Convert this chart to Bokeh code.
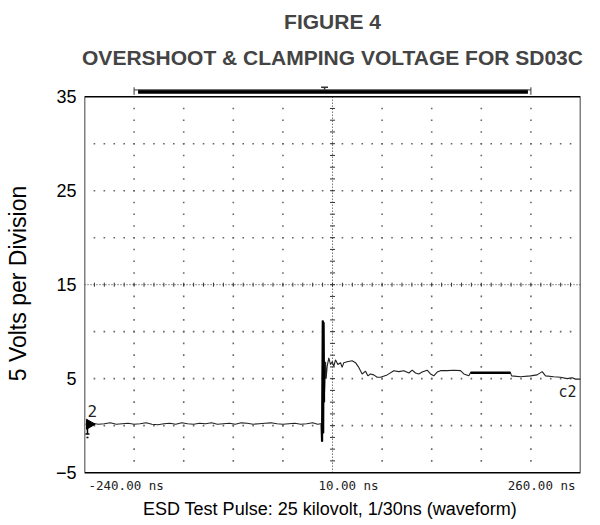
import numpy as np
from bokeh.plotting import figure
from bokeh.models import FixedTicker, Title
from bokeh.core.properties import value
from bokeh.embed import file_html
from bokeh.resources import INLINE

# ---------------- data ----------------
# waveform, channel 2 (time in ns, volts)
time_ns = [
    -239, -232, -226, -220, -214, -208, -202, -196, -190, -184,
    -178, -172, -166, -160, -154, -148, -142, -136, -130, -124,
    -118, -112, -106, -100, -94, -88, -82, -76, -70, -64,
    -58, -52, -46, -40, -34, -28, -22, -16, -10, -5, -2,
    -1.0, -0.5, 0.2, 0.6, 1.0, 1.5, 2.3, 3.0, 3.6, 4.6,
    6.3, 8.0, 9.7, 11.3, 13.0, 15.4, 18.1, 19.7, 21.4, 24.8,
    29.8, 33.2, 36.5, 39.9, 43.3, 45.6, 48.3, 51.6, 55.0, 58.4,
    65.1, 71.8, 76.9, 81.9, 87.0, 90.3, 93.7, 97.0, 100.4, 105.4,
    108.8, 112.1, 115.5, 118.9, 125.6, 132.3, 139.0, 142.4, 147.4, 149.1,
    189.4, 190.5, 199.5, 209.6, 216.3, 221.4, 224.7, 233.1, 239.8, 246.6,
    251.6, 255.0, 260.0,
]
volts = [
    0.15, 0.25, 0.15, 0.2, 0.3, 0.15, 0.2, 0.25, 0.15, 0.2,
    0.3, 0.15, 0.1, 0.2, 0.25, 0.15, 0.3, 0.2, 0.15, 0.25,
    0.2, 0.3, 0.15, 0.2, 0.25, 0.15, 0.3, 0.25, 0.15, 0.2,
    0.25, 0.3, 0.2, 0.15, 0.2, 0.25, 0.15, 0.2, 0.3, 0.15, 0.2,
    0.1, -1.7, 11.2, -0.8, 11.0, 2.5, 4.3, 6.8, 5.0, 6.3,
    7.2, 6.5, 6.8, 6.3, 7.0, 6.5, 6.7, 6.2, 6.7, 6.8,
    6.9, 6.7, 6.2, 5.5, 5.8, 5.3, 5.5, 5.4, 5.15, 5.15,
    5.4, 5.85, 5.75, 5.85, 5.6, 5.9, 5.6, 5.5, 5.7, 5.9,
    5.5, 5.3, 5.7, 5.85, 5.85, 5.9, 5.85, 5.5, 5.3, 5.64,
    5.64, 5.3, 5.2, 5.3, 5.4, 5.75, 5.3, 5.2, 5.15, 5.0,
    5.1, 4.95, 4.95,
]
assert len(time_ns) == len(volts)

# screen settings of the scope
x_tick_values = [-240, 10, 260]
x_tick_labels = ["-240.00 ns", "10.00 ns", "260.00 ns"]
y_tick_values = [-5, 5, 15, 25, 35]
record_start_ns, record_end_ns = -190, 210   # record-length bar above the screen
trigger_marker_ns = 2
channel_ground_v = 0.15
channel_name = "2"
trace_label = "c2"

TITLE_1 = "FIGURE 4"
TITLE_2 = "OVERSHOOT & CLAMPING VOLTAGE FOR SD03C"
X_LABEL = "ESD Test Pulse:  25 kilovolt, 1/30ns (waveform)"
Y_LABEL = "5 Volts per Division"

# ---------------- figure ----------------
X0, X1 = -240, 260
Y0, Y1 = -5, 35
XDIV, YDIV = 50, 5

p = figure(width=592, height=521, x_range=(X0, X1), y_range=(Y0 - 1.9, Y1 + 2.15),
           output_backend="svg", toolbar_location=None, title=None,
           min_border_left=84, min_border_right=12, min_border_top=76,
           min_border_bottom=30)
p.outline_line_color = None
p.grid.visible = False
p.background_fill_color = "white"

# titles
title_font = "Liberation Sans"
p.add_layout(Title(text=TITLE_2, align="center", text_font=title_font,
                   text_font_style="bold", text_font_size="21px", standoff=16), "above")
p.add_layout(Title(text=TITLE_1, align="center", text_font=title_font,
                   text_font_style="bold", text_font_size="21px", standoff=5), "above")

# axes
xa = p.xaxis[0]
xa.ticker = FixedTicker(ticks=[])
xa.axis_line_color = None
xa.major_tick_out = 0
xa.major_tick_in = 0
xa.minor_tick_out = 0
xa.minor_tick_in = 0
xa.major_label_standoff = 0
xa.axis_label = X_LABEL
xa.axis_label_standoff = 8
xa.axis_label_text_font = "Liberation Sans"
xa.axis_label_text_font_style = "normal"
xa.axis_label_text_font_size = "18px"
xa.axis_label_text_color = "black"

ya = p.yaxis[0]
ya.ticker = FixedTicker(ticks=y_tick_values)
ya.axis_line_color = None
ya.major_tick_out = 0
ya.major_tick_in = 0
ya.minor_tick_out = 0
ya.minor_tick_in = 0
ya.major_label_standoff = 8
ya.major_label_text_font = "Liberation Sans"
ya.major_label_text_font_size = "18px"
ya.major_label_text_color = "black"
ya.axis_label = Y_LABEL
ya.axis_label_standoff = 22
ya.axis_label_text_font = "Liberation Sans"
ya.axis_label_text_font_style = "normal"
ya.axis_label_text_font_size = "23px"
ya.axis_label_text_color = "black"

# x tick labels (scope style: left / centre / right), just below the screen
p.text(x=x_tick_values, y=[Y0] * len(x_tick_values), text=x_tick_labels,
       text_align=["left", "center", "right"], x_offset=[4, 16, -5], y_offset=5,
       text_baseline="top", text_font=value("DejaVu Sans Mono"),
       text_font_size="12.5px", text_color="#222222")

# graticule dots
grid_color = "#666666"
h_lines = [v for v in np.arange(Y0 + YDIV, Y1, YDIV) if v != 15]
v_lines = [t for t in np.arange(X0 + XDIV, X1, XDIV) if t != 10]
hx = np.arange(X0 + XDIV / 5, X1, XDIV / 5)
vy = np.arange(Y0 + YDIV / 4, Y1, YDIV / 4)
gx = np.concatenate([hx for _ in h_lines] + [np.full(len(vy), t) for t in v_lines])
gy = np.concatenate([np.full(len(hx), v) for v in h_lines] + [vy for _ in v_lines])
p.scatter(gx, gy, marker="square", size=1.6, line_color=None, fill_color=grid_color)

# centre lines (denser)
p.segment(x0=[X0, 10], y0=[15, Y0], x1=[X1, 10], y1=[15, Y1],
          line_color="#333333", line_width=1, line_dash="1 2")
p.scatter(hx, np.full(len(hx), 15), marker="dash", angle=np.pi / 2, size=4,
          line_color="#333333", line_width=1)
p.scatter(np.full(len(vy), 10), vy, marker="dash", size=5,
          line_color="#333333", line_width=1)

# frame
p.quad(left=X0, right=X1, bottom=Y0, top=Y1, fill_color=None,
       line_color="black", line_width=1.5)

# waveform
t = np.array(time_ns)
v = np.array(volts)
p.line(t, v, line_color="#222222", line_width=1.1)
spike = (t >= -1.0) & (t <= 1.5)
p.line(t[spike], v[spike], line_color="black", line_width=2.2)
flat = (t >= 149) & (t <= 189.5)
p.line(t[flat], v[flat], line_color="black", line_width=2.5)

# record-length bar and trigger marker above the screen
p.quad(left=record_start_ns + 4, right=record_end_ns - 3, bottom=35.32, top=35.74,
       fill_color="black", line_color=None)
p.segment(x0=[record_start_ns], y0=[35.72], x1=[record_end_ns], y1=[35.72],
          line_color="#333333", line_width=1)
p.segment(x0=[record_start_ns, record_end_ns], y0=[35.2, 35.2],
          x1=[record_start_ns, record_end_ns], y1=[36.0, 36.0],
          line_color="#333333", line_width=1)
p.segment(x0=[trigger_marker_ns - 3.5, trigger_marker_ns], y0=[36.0, 36.0],
          x1=[trigger_marker_ns + 3.5, trigger_marker_ns], y1=[36.0, 35.74],
          line_color="#333333", line_width=1.5)

# channel ground marker and label
p.scatter([X0 + 5], [channel_ground_v], marker="triangle", angle=-np.pi / 2, size=10,
          fill_color="black", line_color="black")
p.segment(x0=[X0 + 3, X0 + 1, X0 + 2], y0=[channel_ground_v, -0.9, -1.25],
          x1=[X0 + 3, X0 + 5, X0 + 4], y1=[-0.9, -0.9, -1.25],
          line_color="black", line_width=1.5)
p.text(x=[X0 + 3], y=[channel_ground_v + 0.8], text=[channel_name],
       text_font=value("DejaVu Sans Mono"), text_font_size="16px",
       text_baseline="bottom", text_align="left", text_color="#222222")
p.text(x=[X1 - 4], y=[3.6], text=[trace_label],
       text_font=value("DejaVu Sans Mono"), text_font_size="15px",
       text_baseline="middle", text_align="right", text_color="#222222")

open("out.html", "w").write(file_html(p, INLINE))
